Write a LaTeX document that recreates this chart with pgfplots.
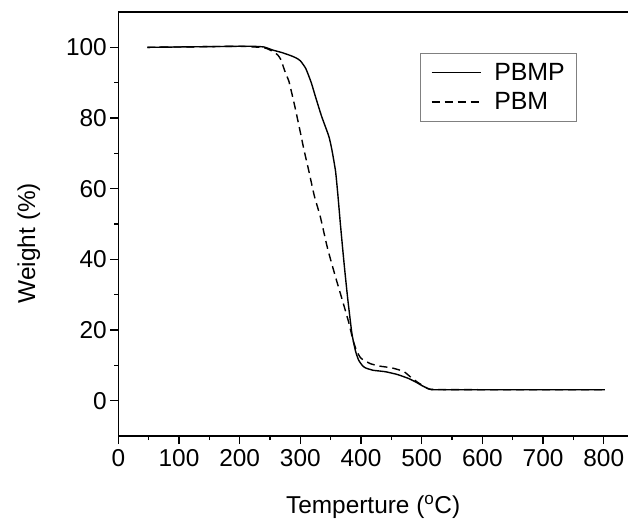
\documentclass[border=0pt]{standalone}
\usepackage{fontspec}
\setmainfont{Liberation Sans}
\usepackage{pgfplots}
\pgfplotsset{compat=1.18}
\begin{document}
\begin{tikzpicture}
\begin{axis}[
  at={(118.3bp,84bp)}, anchor=south west,
  scale only axis, width=509.7bp, height=424bp,
  xmin=0, xmax=840, ymin=-10, ymax=110,
  axis x line*=box, axis y line*=left,
  xtick pos=bottom, ytick pos=left,
  xtick={0,100,...,800}, ytick={0,20,...,100},
  minor xtick={50,150,...,750}, minor ytick={10,30,...,90},
  tick align=outside,
  major tick length=8bp, minor tick length=4bp,
  every tick/.style={black, line width=1.2bp},
  axis line style={black, line width=1.3bp},
  /pgf/number format/assume math mode=true,
  tick label style={font=\fontsize{24.5}{29}\selectfont},
  xticklabel style={yshift=-2bp},
  label style={font=\fontsize{24.5}{29}\selectfont},
  xlabel={Temperture (\textsuperscript{o}C)},
  ylabel={Weight (\%)},
  xlabel style={yshift=-22bp},
  ylabel style={at={(ticklabel cs:0.455)}, yshift=19bp},
  legend style={at={(axis cs:498,98.5)}, anchor=north west, draw=gray, line width=0.8bp,
    font=\fontsize{25}{29}\selectfont, inner xsep=10bp, inner ysep=8bp, row sep=7bp,
    /tikz/every odd column/.append style={column sep=11bp}},
  legend cell align=left,
  legend image code/.code={\draw[#1] (0bp,0bp) -- (49bp,0bp);},
]
\addplot[black, line width=1.4bp, smooth, tension=0.3] coordinates {
(48,100.0) (100,100.1) (150,100.2) (200,100.3) (220,100.3) (240,100.1) (255,99.2) (270,98.5)
(285,97.6) (293,97.0) (300,96.2) (309,94.0) (318,90) (325,86) (335,80.5) (347,74.8)
(352,71) (358,65) (362,58) (366,50) (372,39) (378,29) (385,19) (391,14) (396,11.5)
(402,10) (407,9.3) (420,8.6) (440,8.2) (460,7.4) (478,6.3) (490,5.3) (500,4.3)
(511,3.4) (520,3.1) (600,3.1) (700,3.1) (802,3.1)
};
\addlegendentry{PBMP}
\addplot[black, line width=1.4bp, dash pattern=on 8bp off 5bp, smooth, tension=0.3] coordinates {
(48,100) (100,100.1) (150,100.2) (200,100.3) (240,99.9) (255,98.8) (263,97.8) (268,96.5)
(272,94.5) (276,92.5) (281,90.5) (290,84) (298,77.6) (306,71) (314,65) (323,58) (333,52)
(345,43) (358,35) (370,28) (380,22) (387,17) (393,14) (400,12) (415,10.5) (430,9.8)
(450,9.3) (470,8.3) (483,6.5) (495,5) (505,4) (516,3.2) (600,3.1) (700,3.1) (802,3.1)
};
\addlegendentry{PBM}
\end{axis}
\pgfresetboundingbox
\path (0,0) rectangle (628bp,520bp);
\end{tikzpicture}
\end{document}
